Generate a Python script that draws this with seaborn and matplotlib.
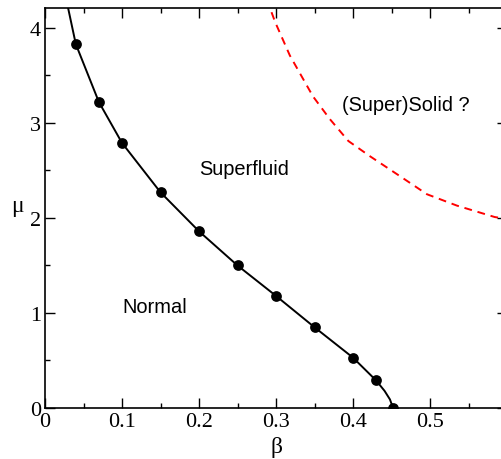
import numpy as np
import pandas as pd
import matplotlib
matplotlib.use("Agg")
import matplotlib.pyplot as plt
import seaborn as sns
from matplotlib.ticker import MultipleLocator, FuncFormatter

# measured transition points (beta, mu)
beta_pts = [0.04, 0.07, 0.10, 0.15, 0.20, 0.25, 0.30, 0.35, 0.40, 0.43, 0.452]
mu_pts = [3.83, 3.22, 2.79, 2.27, 1.86, 1.50, 1.18, 0.85, 0.53, 0.29, 0.0]

# guide line through the points
line_beta = [0.027, 0.030, 0.04, 0.07, 0.10, 0.15, 0.20, 0.25, 0.30, 0.35, 0.40, 0.43, 0.441, 0.448, 0.452]
line_mu = [4.40, 4.21, 3.83, 3.22, 2.79, 2.27, 1.86, 1.50, 1.18, 0.85, 0.53, 0.29, 0.18, 0.09, 0.0]

# speculative solid boundary (red dashed)
solid_beta = [0.288, 0.299, 0.318, 0.348, 0.370, 0.394, 0.422, 0.461, 0.496, 0.535, 0.584, 0.600]
solid_mu = [4.30, 4.06, 3.71, 3.28, 3.04, 2.81, 2.65, 2.44, 2.25, 2.13, 2.01, 1.99]

region_labels = ["Normal", "Superfluid", "(Super)Solid ?"]
region_x = [0.143, 0.258, 0.468]
region_y = [1.07, 2.52, 3.19]

sns.set_style("ticks")
plt.rcParams["font.family"] = ["Liberation Serif", "DejaVu Serif"]
plt.rcParams["text.color"] = "black"
plt.rcParams["axes.labelcolor"] = "black"

fig = plt.figure(figsize=(5.01, 4.60), dpi=100)
ax = fig.add_axes([45 / 501, 51 / 460, 462 / 501, 400 / 460])

sns.lineplot(x=line_beta, y=line_mu, sort=False, color="black", linewidth=1.4, ax=ax)
sns.scatterplot(x=beta_pts, y=mu_pts, color="black", s=60, marker="o",
                edgecolor="black", linewidth=0, ax=ax, zorder=5)
sns.lineplot(x=solid_beta, y=solid_mu, sort=False, color="red", linewidth=1.4,
             linestyle=(0, (4, 3)), ax=ax)

for txt, xx, yy in zip(region_labels, region_x, region_y):
    ax.text(xx, yy, txt, ha="center", va="center", fontsize=14.4, color="black",
            family=["Liberation Sans", "DejaVu Sans"])

ax.set_xlim(0, 0.6)
ax.set_ylim(0, 4.21)
ax.xaxis.set_major_locator(MultipleLocator(0.1))
ax.xaxis.set_minor_locator(MultipleLocator(0.05))
ax.yaxis.set_major_locator(MultipleLocator(1))
ax.yaxis.set_minor_locator(MultipleLocator(0.5))


def xfmt(v, p):
    if abs(v) < 1e-9:
        return "0"
    if v > 0.55:
        return ""
    return f"{v:.1f}"


ax.xaxis.set_major_formatter(FuncFormatter(xfmt))
ax.yaxis.set_major_formatter(FuncFormatter(lambda v, p: f"{v:.0f}"))

ax.tick_params(which="both", direction="in", top=True, right=True, width=1.0,
               colors="black", labelcolor="black")
ax.tick_params(which="major", length=7, labelsize=16, pad=3)
ax.tick_params(which="minor", length=3.5)
for sp in ax.spines.values():
    sp.set_linewidth(1.2)
    sp.set_color("black")
    sp.set_visible(True)

ax.set_xlabel("β", fontsize=17)
ax.set_ylabel("μ", fontsize=17, rotation=0, va="center", ha="center")
ax.xaxis.set_label_coords((276 - 45) / 462, -(448 - 409) / 400)
ax.xaxis.label.set_va("center")
ax.yaxis.set_label_coords(-(45 - 17) / 462, (409 - 207) / 400)

fig.savefig("out.png", dpi=100)
